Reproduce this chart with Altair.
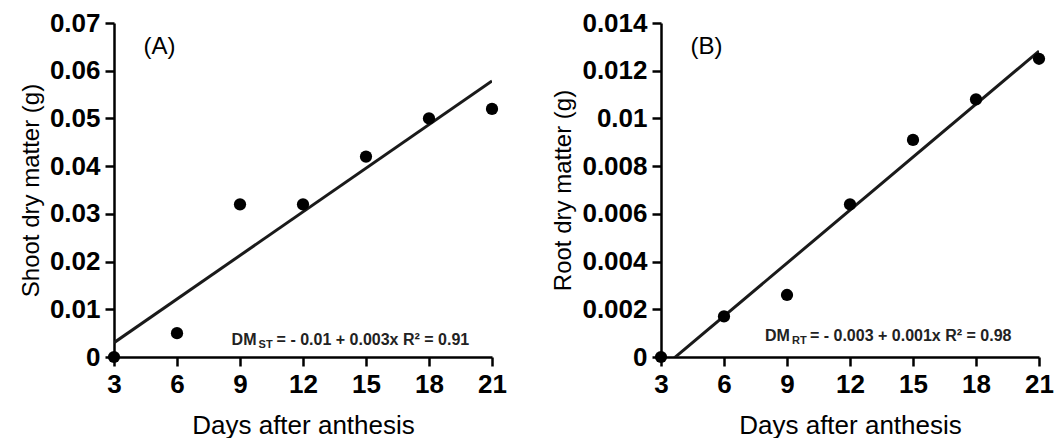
import altair as alt
import pandas as pd

days = [3, 6, 9, 12, 15, 18, 21]
shoot_dm = [0.0, 0.005, 0.032, 0.032, 0.042, 0.050, 0.052]
root_dm = [0.0, 0.0017, 0.0026, 0.0064, 0.0091, 0.0108, 0.0125]

x_ticks = [3, 6, 9, 12, 15, 18, 21]
shoot_ticks = [0, 0.01, 0.02, 0.03, 0.04, 0.05, 0.06, 0.07]
root_ticks = [0, 0.002, 0.004, 0.006, 0.008, 0.01, 0.012, 0.014]

FONT = "Liberation Sans"
W, H = 378, 334


def panel(values, yticks, ytitle, tag, tag_y, sub, rest, eq_x, eq_y):
    df = pd.DataFrame({"day": days, "dm": values})
    ymax = yticks[-1]
    x = alt.X("day:Q", scale=alt.Scale(domain=[3, 21], nice=False),
              axis=alt.Axis(values=x_ticks, title="Days after anthesis"))
    y = alt.Y("dm:Q", scale=alt.Scale(domain=[0, ymax], nice=False),
              axis=alt.Axis(values=yticks, title=ytitle, format="~g"))
    base = alt.Chart(df)
    line = base.transform_regression("day", "dm").mark_line(
        color="#1a1a1a", strokeWidth=3, clip=True).encode(x=x, y=y)
    pts = base.mark_circle(size=150, color="black", opacity=1).encode(x=x, y=y)
    tagdf = pd.DataFrame({"day": [4.4], "dm": [tag_y], "t": [tag]})
    tag_t = alt.Chart(tagdf).mark_text(
        align="left", baseline="middle", fontSize=24, font=FONT, color="black"
    ).encode(x="day:Q", y="dm:Q", text="t:N")
    eqdf = pd.DataFrame({"day": [eq_x], "dm": [eq_y]})
    eq1 = alt.Chart(eqdf).mark_text(
        align="left", baseline="middle", fontSize=16, fontWeight="bold",
        font=FONT, color="#222"
    ).encode(x="day:Q", y="dm:Q", text=alt.value("DM"))
    eq2 = alt.Chart(eqdf).mark_text(
        align="left", baseline="middle", fontSize=11, fontWeight="bold",
        font=FONT, color="#222", dx=27, dy=5
    ).encode(x="day:Q", y="dm:Q", text=alt.value(sub))
    eq3 = alt.Chart(eqdf).mark_text(
        align="left", baseline="middle", fontSize=16, fontWeight="bold",
        font=FONT, color="#222", dx=45
    ).encode(x="day:Q", y="dm:Q", text=alt.value(rest))
    return alt.layer(line, pts, tag_t, eq1, eq2, eq3).properties(width=W, height=H)


a = panel(shoot_dm, shoot_ticks, "Shoot dry matter (g)", "(A)", 0.065,
          "ST", "= - 0.01 + 0.003x R\u00b2 = 0.91", 8.6, 0.0036)
b = panel(root_dm, root_ticks, "Root dry matter (g)", "(B)", 0.013,
          "RT", "= - 0.003 + 0.001x R\u00b2 = 0.98", 7.95, 0.00088)

chart = alt.hconcat(a, b, spacing=44).properties(
    padding={"left": 19, "top": 10, "right": 5, "bottom": 0}
).configure_view(stroke=None).configure_axis(
    grid=False,
    domainColor="black", domainWidth=2.5,
    tickColor="black", tickWidth=2.5, tickSize=9,
    labelFont=FONT, labelFontSize=26, labelFontWeight="bold",
    labelColor="black", labelPadding=5,
    titleFont=FONT, titleColor="black", titleFontWeight="normal",
).configure_axisX(
    titleFontSize=26, titlePadding=15, labelFlush=False, labelPadding=5,
).configure_axisY(
    titleFontSize=24, titlePadding=6,
)

chart.save("out.html", embed_options={"renderer": "svg", "actions": False})
